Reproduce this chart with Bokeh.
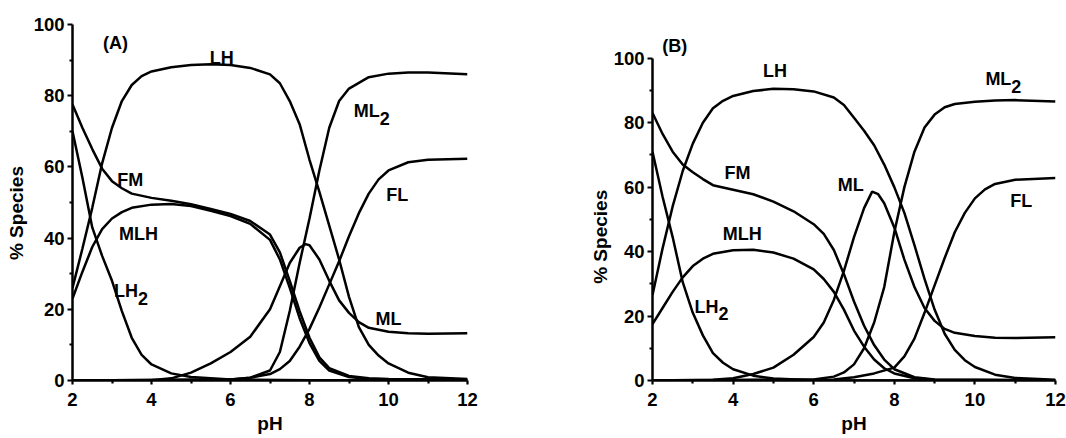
from bokeh.plotting import figure
from bokeh.models import Range1d, FixedTicker, Label
from bokeh.layouts import row
from bokeh.embed import file_html
from bokeh.resources import INLINE

FONT = "Liberation Sans"

# ---------------- Panel A data (pH, % species) ----------------
A_LH_ph = [2.0, 2.25, 2.5, 2.75, 3.0, 3.25, 3.5, 3.75, 4.0, 4.5, 5.0, 5.5, 6.0, 6.5, 7.0, 7.25, 7.5, 7.75,
           8.0, 8.25, 8.5, 8.75, 9.0, 9.25, 9.5, 9.75, 10.0, 10.5, 11.0, 12.0]
A_LH = [26, 37, 48.5, 61, 71, 78.5, 83, 85.5, 86.8, 88, 88.6, 88.8, 88.6, 87.8, 86, 83.5, 78.5, 72,
        62, 53, 43.5, 34, 23.5, 15, 10, 7, 4.8, 2.2, 0.9, 0.4]

A_LH2_ph = [2.0, 2.25, 2.5, 2.75, 3.0, 3.25, 3.5, 3.75, 4.0, 4.5, 5.0, 6.0, 8.0, 12.0]
A_LH2 = [70, 57, 43, 35, 28, 19.5, 12, 7.2, 4.5, 2, 1, 0.3, 0.1, 0.1]

A_FM_ph = [2.0, 2.25, 2.5, 2.75, 3.0, 3.25, 3.5, 4.0, 4.5, 5.0, 5.5, 6.0, 6.5, 7.0, 7.25, 7.5, 7.75,
           8.0, 8.25, 8.5, 9.0, 9.5, 10.0, 12.0]
A_FM = [77.5, 71, 65, 59.5, 56, 54, 52.5, 51.3, 50.5, 49.5, 48.2, 46.8, 44.8, 41, 36, 28, 19.5,
        12, 6.5, 3.5, 1.3, 0.6, 0.4, 0.3]

A_MLH_ph = [2.0, 2.25, 2.5, 2.75, 3.0, 3.25, 3.5, 4.0, 4.5, 5.0, 5.5, 6.0, 6.5, 7.0, 7.25, 7.5, 7.75,
            8.0, 8.25, 8.5, 9.0, 9.5, 12.0]
A_MLH = [23, 30.5, 37.5, 42.5, 45.5, 47.3, 48.5, 49.4, 49.6, 49, 47.7, 46.2, 44, 39.5, 34, 26, 17.5,
         10.5, 5.5, 2.8, 1, 0.4, 0.2]

A_ML_ph = [2.0, 3.0, 4.0, 4.5, 5.0, 5.5, 6.0, 6.5, 7.0, 7.25, 7.5, 7.75, 7.9, 8.0, 8.25, 8.5, 8.75,
           9.0, 9.25, 9.5, 10.0, 10.5, 11.0, 12.0]
A_ML = [0, 0, 0.1, 0.6, 2.2, 4.8, 8, 12.3, 20, 26.5, 33, 37.3, 38.3, 38, 34, 28, 22.5,
        19, 16.4, 14.8, 13.7, 13.3, 13.1, 13.3]

A_ML2_ph = [2.0, 6.0, 6.5, 7.0, 7.25, 7.5, 7.75, 8.0, 8.25, 8.5, 8.75, 9.0, 9.5, 10.0, 10.5, 11.0, 12.0]
A_ML2 = [0, 0.3, 0.8, 2.8, 8, 19.5, 33, 45.5, 59, 71, 78.5, 82, 85.2, 86.2, 86.5, 86.5, 86]

A_FL_ph = [2.0, 6.0, 6.5, 7.0, 7.25, 7.5, 7.75, 8.0, 8.25, 8.5, 8.75, 9.0, 9.25, 9.5, 9.75, 10.0,
           10.5, 11.0, 12.0]
A_FL = [0, 0.3, 0.8, 1.8, 3.2, 5.5, 9.5, 14.5, 20.5, 27, 33.5, 40.5, 47, 52.5, 56.5, 59,
        61.3, 62, 62.3]

# ---------------- Panel B data (pH, % species) ----------------
B_LH_ph = [2.0, 2.25, 2.5, 2.75, 3.0, 3.25, 3.5, 3.75, 4.0, 4.5, 5.0, 5.5, 6.0, 6.5, 6.75, 7.0, 7.25,
           7.5, 7.75, 8.0, 8.25, 8.5, 8.75, 9.0, 9.25, 9.5, 9.75, 10.0, 10.5, 11.0, 12.0]
B_LH = [26.5, 41, 54, 65, 73.5, 80, 84.5, 86.8, 88.3, 89.8, 90.5, 90.4, 89.7, 87.8, 85.5, 81.5, 77.5,
        73, 67, 60, 52, 42, 31.5, 22, 14.5, 9.5, 6.3, 4.2, 1.8, 0.8, 0.2]

B_LH2_ph = [2.0, 2.25, 2.5, 2.75, 3.0, 3.25, 3.5, 3.75, 4.0, 4.5, 5.0, 6.0, 12.0]
B_LH2 = [71, 57, 44.5, 30.5, 21, 14, 8.5, 5.5, 3.5, 1.5, 0.6, 0.1, 0]

B_FM_ph = [2.0, 2.25, 2.5, 2.75, 3.0, 3.25, 3.5, 4.0, 4.5, 5.0, 5.5, 6.0, 6.25, 6.5, 6.75, 7.0, 7.25,
           7.5, 7.75, 8.0, 8.5, 9.0, 12.0]
B_FM = [83, 76.5, 71, 67, 64.6, 62.5, 60.6, 59.2, 57.8, 55.5, 52.5, 48.5, 45.5, 40.5, 33, 24.5, 17,
        11, 6.5, 3.5, 1, 0.3, 0.1]

B_MLH_ph = [2.0, 2.25, 2.5, 2.75, 3.0, 3.25, 3.5, 4.0, 4.5, 5.0, 5.5, 6.0, 6.25, 6.5, 6.75, 7.0, 7.25,
            7.5, 7.75, 8.0, 8.5, 9.0, 12.0]
B_MLH = [17.5, 22.5, 27.5, 32, 35.5, 37.8, 39.3, 40.4, 40.6, 39.7, 37.8, 34.5, 31.5, 27.5, 22, 15.5, 10.5,
         6.5, 3.8, 2.2, 0.7, 0.2, 0]

B_ML_ph = [2.0, 3.5, 4.0, 4.5, 5.0, 5.5, 6.0, 6.25, 6.5, 6.75, 7.0, 7.25, 7.45, 7.6, 7.75, 8.0, 8.25,
           8.5, 8.75, 9.0, 9.25, 9.5, 10.0, 10.5, 11.0, 12.0]
B_ML = [0, 0.2, 0.7, 2, 4, 8, 13.5, 18, 25, 34, 44.5, 53.5, 58.6, 57.8, 55, 47.5, 37.5,
        29, 22.5, 18.5, 16, 14.8, 13.8, 13.3, 13.2, 13.4]

B_ML2_ph = [2.0, 6.0, 6.5, 6.75, 7.0, 7.25, 7.5, 7.75, 8.0, 8.25, 8.5, 8.75, 9.0, 9.25, 9.5, 10.0,
            10.5, 11.0, 12.0]
B_ML2 = [0, 0.3, 1.2, 2.5, 5, 10, 18, 29, 46, 60, 71, 78.5, 82.5, 84.8, 85.8, 86.5,
         86.9, 87, 86.6]

B_FL_ph = [2.0, 6.5, 7.0, 7.5, 8.0, 8.25, 8.5, 8.75, 9.0, 9.25, 9.5, 9.75, 10.0, 10.25, 10.5, 11.0, 12.0]
B_FL = [0, 0.3, 1, 2.2, 4, 7.5, 13, 21, 29.5, 38, 46, 52, 56.5, 59.3, 61, 62.3, 62.8]

X_TICKS = [2, 4, 6, 8, 10, 12]
X_MINOR = [3, 5, 7, 9, 11]
Y_TICKS = [0, 20, 40, 60, 80, 100]
Y_MINOR = [10, 30, 50, 70, 90]

# Arial-bold advance widths (em) for sub-script placement
W = {"L": 0.611, "H": 0.722, "M": 0.833}
LAB_SIZE = 18
NBSP = "\u00a0"


def make_panel(fw, fh, bl, br, y_end, y_lab_standoff, y_pad):
    # trailing no-break spaces move the rotated axis title slightly down,
    # as it sits below the frame centre in the original
    p = figure(frame_width=fw, frame_height=fh, min_border_left=bl, min_border_top=24,
               min_border_right=br, min_border_bottom=58,
               x_range=Range1d(2, 12), y_range=Range1d(0, y_end),
               output_backend="svg", toolbar_location=None,
               x_axis_label="pH", y_axis_label="% Species" + NBSP * y_pad)
    p.outline_line_color = None
    p.xgrid.visible = False
    p.ygrid.visible = False
    p.background_fill_color = "white"
    p.border_fill_color = "white"
    p.xaxis.ticker = FixedTicker(ticks=X_TICKS, minor_ticks=X_MINOR)
    p.yaxis.ticker = FixedTicker(ticks=Y_TICKS, minor_ticks=Y_MINOR)
    p.yaxis.bounds = (0, 100)
    for ax in (p.xaxis[0], p.yaxis[0]):
        ax.axis_line_width = 2.5
        ax.axis_line_color = "black"
        ax.major_tick_line_width = 2.2
        ax.minor_tick_line_width = 2.2
        ax.major_tick_line_color = "black"
        ax.minor_tick_line_color = "black"
        ax.major_tick_out = 5
        ax.major_tick_in = 0
        ax.minor_tick_out = 3
        ax.minor_tick_in = 0
        ax.major_label_text_font = FONT
        ax.major_label_text_font_style = "bold"
        ax.major_label_text_font_size = "18.5px"
        ax.major_label_text_color = "black"
        ax.axis_label_text_font = FONT
        ax.axis_label_text_font_style = "bold"
        ax.axis_label_text_font_size = "19px"
        ax.axis_label_text_color = "black"
    p.xaxis.major_tick_out = 4
    p.yaxis.major_label_standoff = 3
    p.xaxis.major_label_standoff = 8
    p.yaxis.axis_label_standoff = y_lab_standoff
    p.xaxis.axis_label_standoff = 4
    return p


def lab(p, x, y, text, sub=None, align="center", size=LAB_SIZE):
    p.add_layout(Label(x=x, y=y, text=text, text_font=FONT, text_font_style="bold",
                       text_font_size=f"{size}px", text_color="black",
                       text_align=align, text_baseline="middle"))
    if sub:
        w = sum(W.get(c, 0.6) for c in text) * size
        p.add_layout(Label(x=x, y=y, text=sub, x_offset=w, y_offset=-7, text_font=FONT,
                           text_font_style="bold", text_font_size=f"{size}px", text_color="black",
                           text_align="left", text_baseline="middle"))


def curves(p, series):
    for xs, ys in series:
        p.line(xs, ys, line_color="black", line_width=2.5)


# Both frames share the same top/bottom (row alignment); panel B's y-scale
# is extended above 100 so its 100-line sits lower, as in the original.
FRAME_H = 356

# ---------------- Panel A ----------------
pA = make_panel(395, FRAME_H, 72, 93, 100, 4, 4)
curves(pA, [(A_LH_ph, A_LH), (A_LH2_ph, A_LH2), (A_FM_ph, A_FM), (A_MLH_ph, A_MLH),
            (A_ML_ph, A_ML), (A_ML2_ph, A_ML2), (A_FL_ph, A_FL)])
lab(pA, 3.09, 94.9, "(A)")
lab(pA, 5.78, 90.7, "LH")
lab(pA, 3.46, 56.2, "FM")
lab(pA, 3.67, 41.1, "MLH")
lab(pA, 3.05, 25.1, "LH", sub="2", align="left")
lab(pA, 9.12, 75.6, "ML", sub="2", align="left")
lab(pA, 10.22, 52.0, "FL")
lab(pA, 10.0, 17.3, "ML")

# ---------------- Panel B ----------------
pB = make_panel(403, FRAME_H, 92, 11, 110.46, 0, 13)
curves(pB, [(B_LH_ph, B_LH), (B_LH2_ph, B_LH2), (B_FM_ph, B_FM), (B_MLH_ph, B_MLH),
            (B_ML_ph, B_ML), (B_ML2_ph, B_ML2), (B_FL_ph, B_FL)])
lab(pB, 2.55, 103.9, "(B)")
lab(pB, 5.04, 96.1, "LH")
lab(pB, 4.11, 64.3, "FM")
lab(pB, 4.23, 45.6, "MLH")
lab(pB, 3.04, 22.9, "LH", sub="2", align="left")
lab(pB, 10.26, 93.4, "ML", sub="2", align="left")
lab(pB, 11.15, 55.7, "FL")
lab(pB, 6.92, 60.8, "ML")

layout = row(pA, pB)
open("out.html", "w").write(file_html(layout, INLINE))
